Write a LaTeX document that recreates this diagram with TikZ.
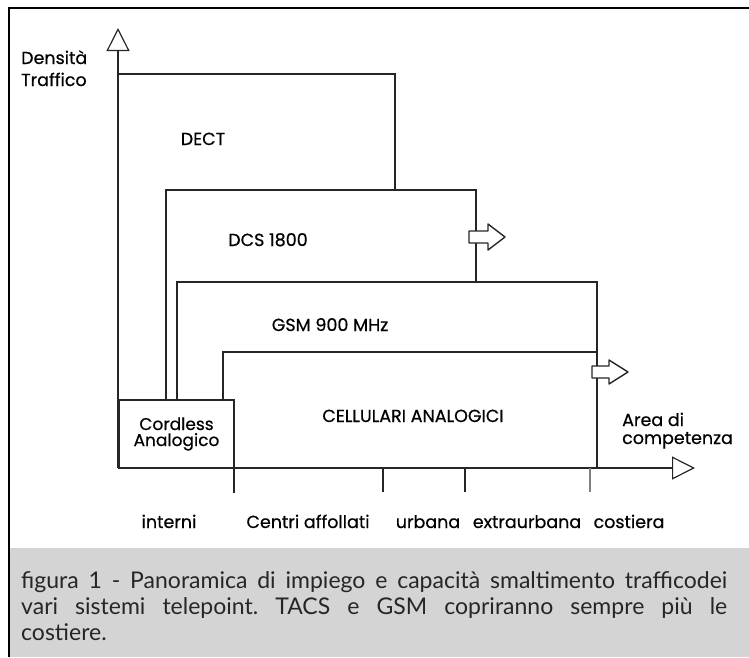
\documentclass[tikz,border=0pt]{standalone}
\usepackage{fontspec}
\setmainfont{Poppins}
\newfontfamily\lblfont{Poppins}[FakeBold=0.5]
\newfontfamily\capfont{Lato}
\usetikzlibrary{arrows.meta}
\definecolor{ink}{HTML}{262626}
\definecolor{capbg}{HTML}{D4D4D4}
\begin{document}
\frenchspacing
\begin{tikzpicture}[x=1pt,y=-1pt,
  frame/.style={draw=black, line width=1.6pt},
  region/.style={draw=ink, line width=1.2pt},
  axis/.style={draw=ink, line width=1.2pt},
  tick/.style={draw=ink, line width=1.2pt},
  lbl/.style={font=\lblfont\fontsize{17.5}{17.5}\selectfont, inner sep=0, anchor=base, text=black},
  lbll/.style={lbl, anchor=base west},
  blockarrow/.style={draw=ink, line width=1.4pt, fill=white, line join=round},
  opentip/.style={-{Triangle[open, length=23pt, width=23pt]}}
]
\useasboundingbox (0,0) rectangle (749,657);
% caption background
\fill[capbg] (9,548) rectangle (749,657);
% outer frame
\coordinate (fbl) at (9,657);
\coordinate (ftl) at (9,8);
\coordinate (ftr) at (749,8);
\draw[frame] (fbl) -- (ftl) -- (ftr);

% axes
\coordinate (orig) at (118,468);
\coordinate (ytop) at (118,28);
\coordinate (xend) at (695,468);
\draw[axis, opentip] (orig) -- (ytop);
\draw[axis, opentip] (orig) -- (xend);

% regions
\coordinate (dect1) at (118,74);
\coordinate (dect2) at (395,74);
\coordinate (dect3) at (395,190);
\draw[region] (dect1) -- (dect2) -- (dect3);

\coordinate (dcs0) at (166,400);
\coordinate (dcs1) at (166,190);
\coordinate (dcs2) at (476,190);
\coordinate (dcs3) at (476,282);
\draw[region] (dcs0) -- (dcs1) -- (dcs2) -- (dcs3);

\coordinate (gsm0) at (177,400);
\coordinate (gsm1) at (177,282);
\coordinate (gsm2) at (597,282);
\coordinate (gsm3) at (597,352);
\draw[region] (gsm0) -- (gsm1) -- (gsm2) -- (gsm3);

\coordinate (cel0) at (223,400);
\coordinate (cel1) at (223,352);
\coordinate (cel2) at (597,352);
\coordinate (cel3) at (597,468);
\draw[region] (cel0) -- (cel1) -- (cel2) -- (cel3);

% cordless box
\node[draw=ink, line width=1.2pt, minimum width=115pt, minimum height=68pt, inner sep=0,
      align=center, font=\lblfont\fontsize{17}{16}\selectfont, text=black] (cordless) at (176.5,434)
      {Cordless\\Analogico};

% ticks
\coordinate (t0a) at (234,468); \coordinate (t0b) at (234,493);
\coordinate (t1a) at (383,468); \coordinate (t1b) at (383,492);
\coordinate (t2a) at (465,468); \coordinate (t2b) at (465,492);
\coordinate (t3a) at (590,468); \coordinate (t3b) at (590,492);
\draw[tick] (t0a) -- (t0b);
\draw[tick] (t1a) -- (t1b);
\draw[tick] (t2a) -- (t2b);
\draw[tick, draw=gray] (t3a) -- (t3b);

% block arrows
\draw[blockarrow] (469,231) -- (488,231) -- (488,224) -- (505,237) -- (488,250) -- (488,243) -- (469,243) -- cycle;
\draw[blockarrow] (592,366) -- (609,366) -- (609,360) -- (628,372) -- (609,384) -- (609,378) -- (592,378) -- cycle;

% labels
\node[lbll] (dens) at (21,64) {Densità};
\node[lbll] (traf) at (21,86) {Traffico};
\node[lbl] (dect) at (203,145) {DECT};
\node[lbl] (dcs) at (268,246) {DCS 1800};
\node[lbl] (gsm) at (330,331) {GSM 900 MHz};
\node[lbl] (cel) at (413,422) {CELLULARI ANALOGICI};
\node[lbll] (area) at (622,426) {Area di};
\node[lbll] (comp) at (622,444) {competenza};

\node[lbl] (l1) at (169,528) {interni};
\node[lbl] (l2) at (308,528) {Centri affollati};
\node[lbl] (l3) at (428,528) {urbana};
\node[lbl] (l4) at (527,528) {extraurbana};
\node[lbl] (l5) at (629,528) {costiera};

% caption
\node[anchor=north west, inner sep=0, text width=706pt, align=justify,
      font=\capfont\fontsize{23}{26}\selectfont, text=ink] (cap) at (21,571)
  {figura 1 - Panoramica di impiego e capacità smaltimento trafficodei\linebreak
   vari sistemi telepoint. TACS e GSM copriranno sempre più le\linebreak
   costiere.};
\end{tikzpicture}
\end{document}
